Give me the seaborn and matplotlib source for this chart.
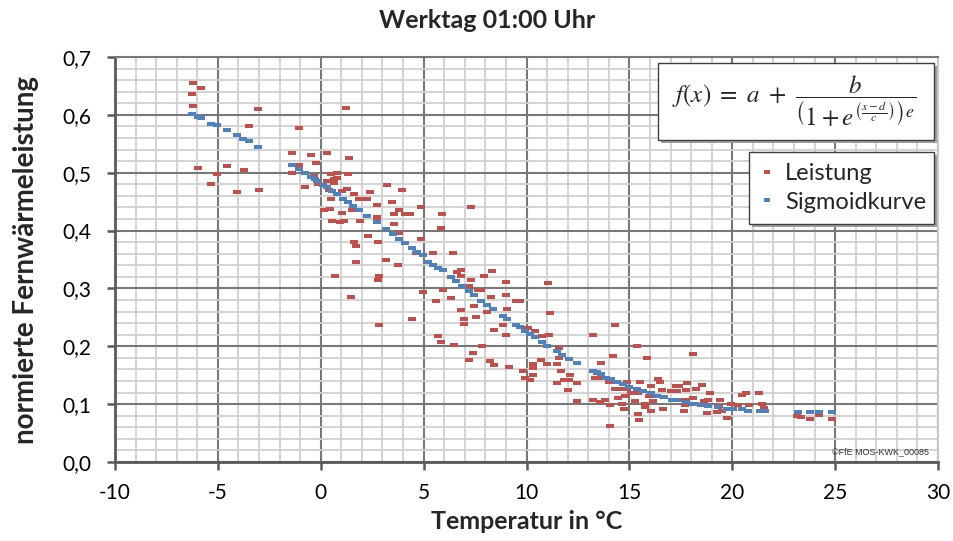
import matplotlib
matplotlib.use("Agg")
import matplotlib.pyplot as plt
import seaborn as sns
import pandas as pd
from matplotlib.patches import Rectangle
from matplotlib.lines import Line2D
from matplotlib.path import Path

# ---------------- data ----------------
title = "Werktag 01:00 Uhr"
x_label = "Temperatur in °C"
y_label = "normierte Fernwärmeleistung"
legend_labels = ["Leistung", "Sigmoidkurve"]
x_ticks = [-10, -5, 0, 5, 10, 15, 20, 25, 30]
y_ticks = [0.0, 0.1, 0.2, 0.3, 0.4, 0.5, 0.6, 0.7]
y_tick_labels = ["0,0", "0,1", "0,2", "0,3", "0,4", "0,5", "0,6", "0,7"]

leistung_x = [
    -6.22, -5.83, -6.27, -6.22, -3.07, -3.50, -1.06,
    -5.98, -4.56, -3.75, -5.06, -5.35, -4.09, -3.00,
    -1.41, -0.49, 0.29, 1.36, -1.06, -0.23, -1.41, -0.33, 0.48, 0.77, 1.31, 0.77,
    0.66, 0.29, 0.63, -0.78, -0.15, 3.20, 1.26, 1.03, 0.42, 1.62, 2.39, 3.95,
    0.48, 1.84, 2.23, 3.46, 2.72, 0.16, 0.45, 1.52, 3.79, 4.86, 1.03, 3.56, 4.08,
    4.34, 2.72, 0.53, 0.94, 1.15, 1.91, 2.72, 3.56, 3.79, 2.32, 1.62, 1.71, 2.77,
    4.86, 4.63, 3.17, 1.71, 3.75, 1.23,
    0.69, 2.82, 2.78, 1.46, 4.97, 5.60, 6.32, 5.96, 6.80, 7.43, 7.53, 6.95, 6.95,
    4.42, 2.82, 5.68, 5.83, 6.46, 7.30, 5.89, 5.83, 5.44, 6.41, 6.61, 6.80, 6.80,
    7.29, 7.19, 7.64,
    8.32, 7.92, 9.00, 11.05, 7.79, 8.26, 9.00, 9.49, 9.68, 9.05, 8.09, 11.14, 8.84,
    8.41, 9.00, 10.06, 10.41, 10.75, 11.09, 7.84, 7.38, 7.19, 8.21, 8.41, 9.13,
    9.82, 10.30, 10.30, 10.69, 10.98, 11.56, 11.56, 11.47, 11.66, 10.30, 12.10,
    9.93, 10.17, 11.81, 12.07, 11.47, 12.44, 12.02,
    14.29, 13.22, 15.36, 14.19, 15.85, 18.08, 13.61, 13.41, 13.54, 13.31, 13.99,
    15.50, 16.38, 16.49, 14.87, 16.04, 17.28, 17.40, 17.79, 18.22, 14.29, 14.48,
    14.87, 14.97, 15.06, 15.40, 14.77, 14.43, 15.94, 16.57, 17.01, 17.30, 17.74,
    18.08, 17.69, 13.22, 13.56, 13.80, 14.06, 14.63, 15.26, 15.74, 15.77, 16.15,
    16.63, 16.04, 17.69, 17.64, 12.44, 14.72, 15.40, 15.45, 14.04,
    18.51, 18.90, 18.63, 18.82, 19.39, 20.46, 20.67, 21.30, 18.19, 19.36, 19.49,
    19.92, 20.29, 20.80, 21.43, 21.54, 18.76, 19.24, 19.73, 23.13, 23.32, 23.78,
    24.20, 24.85,
]
leistung_y = [
    0.655, 0.646, 0.636, 0.615, 0.610, 0.580, 0.578,
    0.508, 0.511, 0.504, 0.497, 0.480, 0.466, 0.470,
    0.534, 0.530, 0.534, 0.525, 0.513, 0.516, 0.499, 0.494, 0.498, 0.499, 0.497, 0.491,
    0.489, 0.485, 0.482, 0.476, 0.480, 0.479, 0.472, 0.468, 0.470, 0.464, 0.466, 0.470,
    0.454, 0.454, 0.454, 0.449, 0.444, 0.436, 0.437, 0.436, 0.435, 0.440, 0.430, 0.428, 0.428,
    0.428, 0.423, 0.416, 0.414, 0.416, 0.416, 0.418, 0.411, 0.395, 0.390, 0.381, 0.373, 0.380,
    0.385, 0.361, 0.349, 0.345, 0.340, 0.611,
    0.321, 0.321, 0.314, 0.285, 0.293, 0.279, 0.283, 0.298, 0.262, 0.269, 0.250, 0.248, 0.238,
    0.247, 0.236, 0.217, 0.207, 0.203, 0.440, 0.428, 0.404, 0.361, 0.361, 0.328, 0.331, 0.321,
    0.314, 0.305, 0.297,
    0.330, 0.321, 0.311, 0.309, 0.297, 0.286, 0.288, 0.278, 0.279, 0.264, 0.260, 0.257, 0.236,
    0.229, 0.219, 0.231, 0.226, 0.217, 0.219, 0.200, 0.188, 0.176, 0.174, 0.167, 0.164,
    0.158, 0.169, 0.162, 0.177, 0.169, 0.197, 0.179, 0.169, 0.158, 0.150, 0.150,
    0.145, 0.141, 0.141, 0.141, 0.136, 0.136, 0.124,
    0.236, 0.219, 0.200, 0.183, 0.179, 0.186, 0.171, 0.153, 0.146, 0.146, 0.138,
    0.139, 0.143, 0.138, 0.138, 0.131, 0.131, 0.131, 0.136, 0.127, 0.126, 0.127,
    0.126, 0.129, 0.119, 0.120, 0.114, 0.110, 0.114, 0.124, 0.122, 0.122, 0.124,
    0.110, 0.108, 0.107, 0.103, 0.108, 0.098, 0.100, 0.105, 0.100, 0.095, 0.106,
    0.091, 0.088, 0.098, 0.089, 0.105, 0.091, 0.083, 0.072, 0.063,
    0.133, 0.119, 0.105, 0.108, 0.107, 0.115, 0.119, 0.119, 0.101, 0.097, 0.089,
    0.101, 0.098, 0.098, 0.100, 0.093, 0.084, 0.086, 0.076, 0.079, 0.077, 0.074,
    0.082, 0.074,
]

sigmoid_x = [
    -6.27, -5.95, -5.83, -5.35, -5.06, -4.56, -4.09, -3.76, -3.49, -3.05,
    -1.41, -1.06, -0.77, -0.49, -0.28, -0.17, 0.09, 0.29, 0.53, 0.80, 1.10, 1.34,
    1.58, 1.87, 2.26, 2.75, 3.17, 3.53, 3.82, 4.08, 4.42, 4.69, 4.96, 5.23, 5.47,
    5.72, 5.93, 6.32, 6.57, 6.88, 7.19, 7.43, 7.79, 8.07, 8.37, 8.84, 9.04, 9.49,
    9.68, 9.91, 10.17, 10.41, 10.74, 11.01, 11.47, 11.71, 12.05, 12.44,
    13.22, 13.41, 13.61, 13.85, 14.09, 14.38, 14.67, 14.99, 15.36, 15.65, 16.04,
    16.36, 16.69, 17.05, 17.33, 17.74, 18.08, 18.47, 18.84, 19.33, 19.73, 20.05,
    20.46, 20.75, 21.35, 21.59, 23.21, 23.78, 24.20, 24.85,
]
sigmoid_y = [
    0.601, 0.596, 0.594, 0.585, 0.582, 0.573, 0.565, 0.558, 0.554, 0.544,
    0.513, 0.506, 0.500, 0.492, 0.489, 0.485, 0.479, 0.475, 0.469, 0.463, 0.455, 0.450,
    0.442, 0.436, 0.425, 0.414, 0.403, 0.394, 0.386, 0.379, 0.370, 0.363, 0.357, 0.346, 0.340,
    0.335, 0.331, 0.319, 0.312, 0.304, 0.295, 0.288, 0.279, 0.272, 0.264, 0.252, 0.247, 0.236,
    0.233, 0.227, 0.222, 0.216, 0.207, 0.201, 0.191, 0.185, 0.178, 0.171,
    0.157, 0.155, 0.152, 0.146, 0.143, 0.138, 0.134, 0.129, 0.126, 0.122, 0.119,
    0.114, 0.112, 0.108, 0.107, 0.103, 0.100, 0.098, 0.097, 0.095, 0.092, 0.091,
    0.091, 0.089, 0.088, 0.088, 0.086, 0.086, 0.086, 0.086,
]

red = "#C0504D"
blue = "#4F81BD"

# ---------------- style ----------------
sns.set_theme(style="white")
plt.rcParams["font.family"] = ["Lato", "DejaVu Sans"]
plt.rcParams["mathtext.fontset"] = "stix"

fig = plt.figure(figsize=(9.54, 5.41), dpi=100)
ax = fig.add_axes([115 / 954, 1 - 462 / 541, (938 - 115) / 954, (462 - 57) / 541])

dash = Path([(-1, -0.45), (1, -0.45), (1, 0.45), (-1, 0.45), (-1, -0.45)],
            [Path.MOVETO, Path.LINETO, Path.LINETO, Path.LINETO, Path.CLOSEPOLY])

df_l = pd.DataFrame({"x": leistung_x, "y": leistung_y})
df_s = pd.DataFrame({"x": sigmoid_x, "y": sigmoid_y})
sns.scatterplot(data=df_l, x="x", y="y", ax=ax, marker=dash, s=26, color=red,
                linewidth=0, zorder=3, legend=False)
sns.scatterplot(data=df_s, x="x", y="y", ax=ax, marker=dash, s=26, color=blue,
                linewidth=0, zorder=4, legend=False)

ax.set_xlim(-10, 30)
ax.set_ylim(0, 0.7)
ax.set_xticks(x_ticks)
ax.set_xticklabels([str(t) for t in x_ticks])
ax.set_yticks(y_ticks)
ax.set_yticklabels(y_tick_labels)
ax.set_xticks([v for v in range(-10, 31)], minor=True)
ax.set_yticks([i * 0.02 for i in range(36)], minor=True)

ax.grid(which="minor", color="#d0d0d0", linewidth=1.3, zorder=0)
ax.grid(which="major", color="#787878", linewidth=1.5, zorder=1)
ax.set_axisbelow(True)

ax.spines["top"].set_color("#787878")
ax.spines["top"].set_linewidth(1.5)
ax.spines["right"].set_color("#c8c8c8")
ax.spines["right"].set_linewidth(1.3)
for side in ["left", "bottom"]:
    ax.spines[side].set_color("#5a5a5a")
    ax.spines[side].set_linewidth(2.0)

ax.tick_params(axis="both", which="major", direction="out", length=6, width=1.8,
               color="#5a5a5a", labelsize=15, bottom=True, left=True)
ax.tick_params(axis="y", which="major", pad=11)
ax.tick_params(axis="x", which="major", pad=9)
ax.tick_params(axis="both", which="minor", length=0)
for lbl in ax.get_xticklabels() + ax.get_yticklabels():
    lbl.set_color("#000000")

ax.set_xlabel(x_label, fontsize=18, fontweight="bold", labelpad=5)
ax.set_ylabel(y_label, fontsize=20, fontweight="bold", labelpad=17)
fig.text(487 / 954, 1 - 21 / 541, title, ha="center", va="center",
         fontsize=18, fontweight="bold")

# boxes with drop shadow
def box(x0, y0, x1, y1):
    w = (x1 - x0) / 823
    h = (y1 - y0) / 405
    ax0 = (x0 - 115) / 823
    ay0 = (462 - y1) / 405
    sh = Rectangle((ax0 + 3 / 823, ay0 - 3 / 405), w, h, transform=ax.transAxes,
                   facecolor="#a0a0a0", edgecolor="none", zorder=8, clip_on=False)
    r = Rectangle((ax0, ay0), w, h, transform=ax.transAxes, facecolor="white",
                  edgecolor="#404040", linewidth=1.0, zorder=9, clip_on=False)
    ax.add_patch(sh)
    ax.add_patch(r)

box(658, 63, 934, 140)
ax.text((794 - 115) / 823, (462 - 101) / 405,
        r"$f(x)\ =\ a\ +\ \dfrac{b}{\left(1+e^{\left(\frac{x-d}{c}\right)}\right)^{e}}$",
        transform=ax.transAxes, ha="center", va="center", fontsize=18, zorder=10)

box(749, 152, 934, 224)
handles = [Line2D([], [], linestyle="none", marker=dash, markersize=5, color=red, markeredgewidth=0),
           Line2D([], [], linestyle="none", marker=dash, markersize=5, color=blue, markeredgewidth=0)]
leg = ax.legend(handles, legend_labels, loc="center left",
                bbox_to_anchor=((760 - 115) / 823, (462 - 188) / 405),
                frameon=False, fontsize=17, handlelength=0.6, handletextpad=0.45,
                labelspacing=0.3, borderaxespad=0, borderpad=0)
leg.set_zorder(11)

ax.text((929 - 115) / 823, (462 - 452) / 405, "©FfE MOS-KWK_00085", transform=ax.transAxes,
        ha="right", va="center", fontsize=6.5, color="#333333",
        family=["Liberation Sans", "DejaVu Sans"], zorder=5)

fig.savefig("out.png", dpi=100)
